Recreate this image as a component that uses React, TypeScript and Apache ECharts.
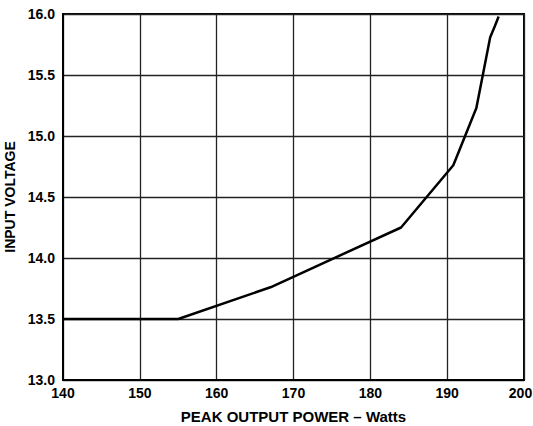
import React, { useEffect, useRef } from "react";
import * as echarts from "echarts";

const powerWatts = [140, 155, 167, 184, 190.8, 193.8, 195.6, 196.2, 196.7];
const inputVoltage = [13.5, 13.5, 13.76, 14.25, 14.76, 15.23, 15.81, 15.9, 15.98];
const xTicks = [140, 150, 160, 170, 180, 190, 200];
const yTicks = [13.0, 13.5, 14.0, 14.5, 15.0, 15.5, 16.0];

export default function App() {
  const ref = useRef<HTMLDivElement>(null);
  useEffect(() => {
    const chart = echarts.init(ref.current!, null, { renderer: "svg" });
    const font = "Liberation Sans";
    const xMax = xTicks[xTicks.length - 1];
    chart.setOption({
      animation: false,
      backgroundColor: "#ffffff",
      grid: {
        left: 63,
        right: 9,
        top: 14,
        bottom: 46,
        show: true,
        borderColor: "#000",
        borderWidth: 2,
        backgroundColor: "transparent",
        outerBoundsMode: "none",
        containLabel: false,
      },
      xAxis: {
        type: "value",
        min: xTicks[0],
        max: xMax,
        interval: 10,
        name: "PEAK OUTPUT POWER – Watts",
        nameLocation: "middle",
        nameGap: 29,
        nameTextStyle: { fontFamily: font, fontWeight: 700, fontSize: 15, color: "#000" },
        axisLine: { show: true, lineStyle: { color: "#000", width: 2 } },
        axisTick: { show: false },
        axisLabel: {
          fontFamily: font,
          fontWeight: 700,
          fontSize: 14,
          color: "#000",
          margin: 6,
          formatter: (v: number) => (v === xMax ? "{m|" + v + "}" : String(v)),
          rich: {
            m: {
              fontFamily: font,
              fontWeight: 700,
              fontSize: 14,
              color: "#000",
              padding: [0, 7, 0, 0],
            },
          },
        },
        splitLine: { show: true, lineStyle: { color: "#222", width: 1.3 } },
      },
      yAxis: {
        type: "value",
        min: yTicks[0],
        max: yTicks[yTicks.length - 1],
        interval: 0.5,
        name: "INPUT VOLTAGE",
        nameLocation: "middle",
        nameRotate: 90,
        nameGap: 40,
        nameTextStyle: { fontFamily: font, fontWeight: 700, fontSize: 14, color: "#000" },
        axisLine: { show: true, lineStyle: { color: "#000", width: 2 } },
        axisTick: { show: false },
        axisLabel: {
          fontFamily: font,
          fontWeight: 700,
          fontSize: 14,
          color: "#000",
          margin: 8,
          formatter: (v: number) => v.toFixed(1),
        },
        splitLine: { show: true, lineStyle: { color: "#222", width: 1.3 } },
      },
      series: [
        {
          type: "line",
          data: powerWatts.map((x, i) => [x, inputVoltage[i]]),
          showSymbol: false,
          symbol: "none",
          lineStyle: { color: "#000", width: 2.5 },
          z: 5,
        },
      ],
    });
    return () => chart.dispose();
  }, []);
  return <div ref={ref} style={{ width: 533, height: 426, position: "absolute", left: 0, top: 0 }} />;
}
